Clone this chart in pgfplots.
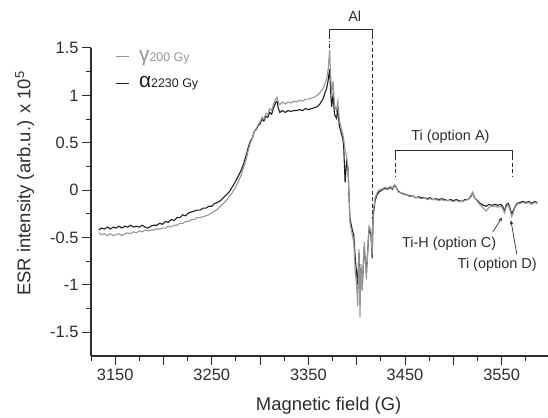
\documentclass[border=0pt]{standalone}
\usepackage{pgfplots}
\pgfplotsset{compat=1.18}
\usepackage{pgfplotstable}
\usepackage{fontspec}
\setmainfont{Liberation Sans}
\usetikzlibrary{arrows.meta}
\definecolor{gammagrey}{RGB}{150,150,150}
\definecolor{alphablack}{RGB}{30,30,30}
\definecolor{axisgrey}{RGB}{45,45,45}

% gamma, 200 Gy (grey)
\pgfplotstableread{
x y
3133 -0.45
3136 -0.47
3139 -0.46
3142 -0.48
3145 -0.46
3148 -0.48
3151 -0.47
3154 -0.46
3157 -0.48
3160 -0.46
3163 -0.45
3166 -0.46
3169 -0.44
3172 -0.45
3175 -0.43
3178 -0.44
3181 -0.42
3184 -0.43
3187 -0.42
3190 -0.42
3193 -0.41
3196 -0.41
3199 -0.40
3202 -0.40
3205 -0.38
3208 -0.39
3211 -0.37
3214 -0.37
3217 -0.35
3220 -0.35
3223 -0.33
3226 -0.33
3229 -0.31
3232 -0.31
3235 -0.29
3238 -0.29
3241 -0.28
3244 -0.27
3247 -0.26
3250 -0.24
3253 -0.22
3256 -0.20
3259 -0.17
3262 -0.14
3265 -0.11
3268 -0.07
3271 -0.03
3274 0.02
3277 0.08
3280 0.15
3283 0.24
3286 0.34
3288 0.43
3290 0.50
3292 0.55
3294 0.62
3296 0.65
3298 0.69
3300 0.72
3302 0.77
3304 0.75
3306 0.81
3308 0.80
3310 0.86
3312 0.84
3314 0.91
3316 0.96
3317.5 0.98
3319 0.92
3320.5 0.90
3323 0.93
3326 0.91
3329 0.93
3332 0.92
3335 0.94
3338 0.93
3341 0.95
3344 0.94
3347 0.96
3350 0.96
3353 0.97
3356 0.98
3359 1.00
3362 1.03
3365 1.07
3367 1.12
3369 1.18
3370.5 1.28
3372 1.48
3373 1.22
3374 1.02
3375.5 1.15
3377 0.90
3379 0.84
3380.5 0.94
3382 0.74
3384 0.66
3385.5 0.60
3386.5 0.54
3388 0.42
3389.5 0.36
3391 0.24
3393 -0.34
3395 -0.45
3397 -0.55
3398.5 -0.86
3400 -1.02
3401 -1.22
3402.3 -0.62
3403.4 -1.34
3404.4 -0.78
3405.7 -1.06
3407.8 -0.55
3410 -0.94
3412.7 -0.38
3414.7 -0.41
3416 -0.69
3417 -0.24
3419 -0.08
3421 -0.03
3423 0.00
3426 0.01
3429 0.03
3432 0.02
3435 0.04
3437 0.02
3439 0.06
3441 0.03
3443 -0.02
3446 -0.03
3449 -0.05
3452 -0.05
3455 -0.07
3458 -0.06
3461 -0.08
3464 -0.08
3467 -0.09
3470 -0.08
3473 -0.10
3476 -0.09
3479 -0.10
3482 -0.10
3485 -0.11
3488 -0.10
3491 -0.11
3494 -0.11
3497 -0.11
3500 -0.12
3503 -0.11
3506 -0.12
3509 -0.12
3512 -0.11
3515 -0.10
3518 -0.06
3520 -0.02
3522 -0.08
3525 -0.12
3528 -0.16
3531 -0.19
3534 -0.22
3537 -0.18
3540 -0.17
3543 -0.17
3546 -0.18
3549 -0.17
3551 -0.19
3553 -0.24
3555 -0.17
3557 -0.16
3559 -0.22
3560.5 -0.28
3562 -0.24
3564 -0.18
3566 -0.15
3569 -0.14
3572 -0.13
3575 -0.14
3578 -0.13
3581 -0.15
3584 -0.13
3587 -0.14
}\gammadata

% alpha, 2230 Gy (black)
\pgfplotstableread{
x y
3133 -0.42
3136 -0.40
3139 -0.41
3142 -0.39
3145 -0.41
3148 -0.39
3151 -0.40
3154 -0.38
3157 -0.40
3160 -0.38
3163 -0.39
3166 -0.37
3169 -0.39
3172 -0.38
3175 -0.39
3178 -0.37
3181 -0.39
3184 -0.40
3187 -0.38
3190 -0.37
3193 -0.37
3196 -0.35
3199 -0.36
3202 -0.33
3205 -0.34
3208 -0.31
3211 -0.32
3214 -0.29
3217 -0.29
3220 -0.26
3223 -0.27
3226 -0.24
3229 -0.23
3232 -0.22
3235 -0.21
3238 -0.21
3241 -0.19
3244 -0.19
3247 -0.17
3250 -0.17
3253 -0.14
3256 -0.13
3259 -0.11
3262 -0.08
3265 -0.05
3268 -0.02
3271 0.03
3274 0.08
3277 0.14
3280 0.20
3283 0.28
3286 0.38
3288 0.46
3290 0.52
3292 0.55
3294 0.62
3296 0.64
3298 0.68
3300 0.70
3302 0.75
3304 0.73
3306 0.78
3308 0.77
3310 0.82
3312 0.80
3314 0.87
3316 0.92
3317.5 0.94
3319 0.86
3320.5 0.82
3323 0.84
3326 0.82
3329 0.84
3332 0.83
3335 0.84
3338 0.84
3341 0.85
3344 0.84
3347 0.86
3350 0.85
3353 0.86
3356 0.87
3359 0.88
3362 0.91
3365 0.96
3367 1.02
3369 1.08
3370.5 1.16
3372 1.28
3373 1.05
3374 0.88
3375.5 1.00
3377 0.80
3379 0.76
3380.5 0.85
3382 0.68
3384 0.60
3385.5 0.55
3386.5 0.47
3388 0.08
3389.5 0.30
3391 0.22
3393 -0.30
3395 -0.40
3397 -0.48
3398.5 -0.72
3400 -0.88
3401 -1.00
3402.3 -0.66
3403.4 -1.12
3404.4 -0.82
3405.7 -1.02
3407.8 -0.60
3410 -0.88
3412.7 -0.42
3414.7 -0.46
3416 -0.72
3417 -0.28
3419 -0.11
3421 -0.05
3423 -0.02
3426 0.00
3429 0.02
3432 0.01
3435 0.03
3437 0.01
3439 0.05
3441 0.03
3443 -0.01
3446 -0.03
3449 -0.04
3452 -0.05
3455 -0.06
3458 -0.06
3461 -0.08
3464 -0.07
3467 -0.08
3470 -0.08
3473 -0.09
3476 -0.08
3479 -0.10
3482 -0.09
3485 -0.10
3488 -0.09
3491 -0.10
3494 -0.11
3497 -0.10
3500 -0.11
3503 -0.10
3506 -0.11
3509 -0.12
3512 -0.10
3515 -0.10
3518 -0.07
3520 -0.03
3522 -0.08
3525 -0.11
3528 -0.14
3531 -0.16
3534 -0.17
3537 -0.15
3540 -0.16
3543 -0.15
3546 -0.16
3549 -0.15
3551 -0.17
3553 -0.22
3555 -0.15
3557 -0.14
3559 -0.20
3560.5 -0.25
3562 -0.22
3564 -0.17
3566 -0.14
3569 -0.13
3572 -0.12
3575 -0.13
3578 -0.12
3581 -0.14
3584 -0.12
3587 -0.13
}\alphadata

\begin{document}
\begin{tikzpicture}
\begin{axis}[
  name=ax,
  scale only axis,
  width=457bp, height=308bp,
  xmin=3125, xmax=3598,
  ymin=-1.75, ymax=1.5,
  axis lines=left,
  axis line style={-, line width=1.1pt, axisgrey},
  clip=false,
  tick align=outside,
  major tick length=9bp, minor tick length=5bp,
  every tick/.style={line width=1pt, axisgrey},
  xtick={3150,3200,...,3550},
  xticklabels={3150,,3250,,3350,,3450,,3550},
  minor xtick={3125,3175,...,3575},
  ytick={-1.5,-1,...,1.5},
  minor ytick={-1.25,-0.75,...,1.25},
  /pgf/number format/assume math mode=true,
  tick label style={font=\fontsize{16.5}{18}\selectfont, text=axisgrey},
  xticklabel style={yshift=-1bp},
  xlabel={Magnetic field (G)},
  ylabel={ESR intensity (arb.u.) x 10\textsuperscript{5}},
  label style={font=\fontsize{18.5}{20}\selectfont, text=axisgrey},
  xlabel style={at={(axis description cs:0.52,-0.162)}, anchor=center},
  ylabel style={at={(axis description cs:-0.145,0.56)}, anchor=center},
  legend style={at={(axis description cs:0.052,1.0)}, anchor=north west,
    draw=none, fill=none, inner sep=0pt, row sep=10bp,
    cells={anchor=west},
    /tikz/every odd column/.append style={column sep=8bp}},
  legend image code/.code={\draw[#1] (0bp,0bp) -- (13bp,0bp);},
]
\addlegendimage{gammagrey, line width=1.1pt}
\addlegendentry{\textcolor{gammagrey}{\fontsize{21}{22}\selectfont γ\fontsize{12.5}{13}\selectfont 200 Gy}}
\addlegendimage{alphablack, line width=1.1pt}
\addlegendentry{\textcolor{alphablack}{\fontsize{21}{22}\selectfont α\fontsize{12.5}{13}\selectfont 2230 Gy}}
\addplot[alphablack, line width=1.1pt, forget plot] table[x=x, y=y] {\alphadata};
\addplot[gammagrey, line width=1.1pt, forget plot] table[x=x, y=y] {\gammadata};

% Al bracket
\draw[axisgrey, line width=0.9pt] (axis cs:3372,1.64) -- (axis cs:3372,1.70) -- (axis cs:3416,1.70) -- (axis cs:3416,1.64);
\draw[axisgrey, line width=0.9pt, dash pattern=on 4bp off 2bp on 1bp off 2bp] (axis cs:3372,1.64) -- (axis cs:3372,1.50);
\draw[axisgrey, line width=0.9pt, dash pattern=on 4bp off 2.5bp] (axis cs:3416,1.64) -- (axis cs:3416,-0.30);
\node[font=\fontsize{14.5}{16}\selectfont, text=axisgrey] at (axis cs:3398,1.83) {Al};

% Ti (option A) bracket
\draw[axisgrey, line width=0.9pt] (axis cs:3440,0.36) -- (axis cs:3440,0.42) -- (axis cs:3561,0.42) -- (axis cs:3561,0.36);
\draw[axisgrey, line width=0.9pt, dash pattern=on 4bp off 2.5bp] (axis cs:3440,0.36) -- (axis cs:3440,0.15);
\draw[axisgrey, line width=0.9pt, dash pattern=on 4bp off 2.5bp] (axis cs:3561,0.36) -- (axis cs:3561,0.15);
\node[font=\fontsize{14.5}{16}\selectfont, text=axisgrey] at (axis cs:3497,0.56) {Ti (option A)};

% Ti-H (option C) and Ti (option D)
\draw[axisgrey, line width=0.7pt, -{Stealth[length=4bp,width=3.5bp]}] (axis cs:3541,-0.44) -- (axis cs:3550.3,-0.29);
\node[font=\fontsize{14.5}{16}\selectfont, text=axisgrey] at (axis cs:3495.7,-0.57) {Ti-H (option C)};
\draw[axisgrey, line width=0.7pt, -{Stealth[length=4bp,width=3.5bp]}] (axis cs:3565.8,-0.68) -- (axis cs:3559.6,-0.32);
\node[font=\fontsize{14.5}{16}\selectfont, text=axisgrey] at (axis cs:3545.4,-0.79) {Ti (option D)};
\end{axis}
\pgfresetboundingbox
\path[use as bounding box] ([shift={(-91bp,-62bp)}]ax.south west) rectangle ([shift={(0bp,48bp)}]ax.north east);
\end{tikzpicture}
\end{document}
